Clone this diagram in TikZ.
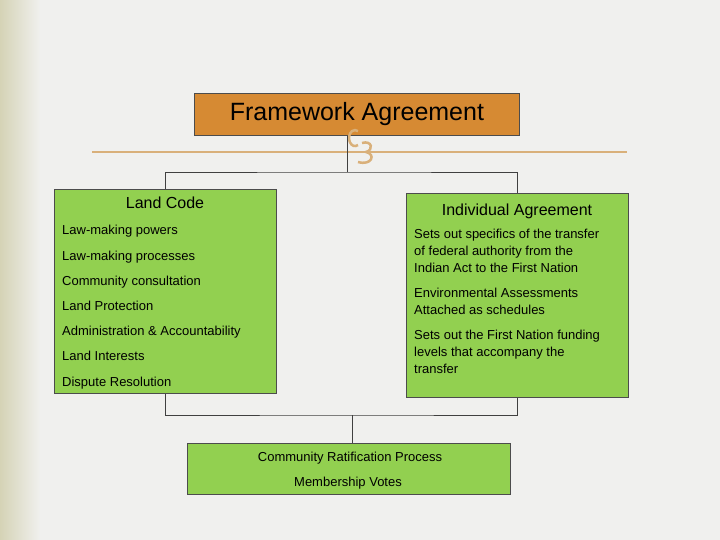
\documentclass[tikz,border=0pt]{standalone}
\usepackage{fontspec}
\setmainfont{Liberation Sans}
\begin{document}
\begin{tikzpicture}[x=1pt,y=-1pt,
  box/.style={draw=black!70,line width=0.8pt,anchor=north west,inner sep=0pt},
  conn/.style={draw=black!75,line width=0.8pt},
  item/.style={anchor=base west,inner sep=0pt,font=\fontsize{13}{15.6}\selectfont},
  ttl/.style={anchor=base,inner sep=0pt,font=\bfseries\fontsize{16}{19}\selectfont}]
\definecolor{bg}{HTML}{F0F0EE}
\definecolor{band}{HTML}{D5D3B6}
\definecolor{orangebox}{HTML}{D68A33}
\definecolor{greenbox}{HTML}{92D050}
\definecolor{tan}{HTML}{D9B07A}
\useasboundingbox (0,0) rectangle (720,540);
\fill[bg] (0,0) rectangle (720,540);
\shade[left color=band,right color=bg] (0,0) rectangle (40,540);
% framework
\node[box,fill=orangebox,minimum width=325pt,minimum height=42pt] (fw) at (194,93) {};
\node[inner sep=0pt,font=\fontsize{25}{30}\selectfont] (fwt) at (fw.center) {Framework Agreement};
% decorative line and ornament
\coordinate (dl) at (92,152);
\coordinate (dr) at (627,152);
\draw[tan,line width=1.5pt] (dl) -- (dr);
\draw[tan,line width=2.5pt] (358,145) arc (60:300:6 and 8);
\draw[tan,line width=2.5pt] (362,143) .. controls (372,140) and (374,150) .. (366,152) .. controls (376,154) and (372,166) .. (358,162);
% boxes
\node[box,fill=greenbox,minimum width=222pt,minimum height=204pt] (lc) at (54,189) {};
\node[box,fill=greenbox,minimum width=222pt,minimum height=204pt] (ia) at (406,193) {};
\node[box,fill=greenbox,minimum width=323pt,minimum height=51pt] (cr) at (187,443) {};
% connectors
\coordinate (j1) at (347,172);
\draw[conn] (fw.south -| j1) -- (j1);
\draw[conn] (lc.north) |- (j1) -| (ia.north);
\coordinate (j2) at (352,415);
\draw[conn] (lc.south) |- (j2) -| (ia.south);
\draw[conn] (j2) -- (cr.north -| j2);
% land code text
\node[ttl] (lct) at (165,208) {\fontseries{m}\selectfont Land Code};
\node[item] (l1) at (62,234) {Law-making powers};
\node[item] (l2) at (62,260) {Law-making processes};
\node[item] (l3) at (62,285) {Community consultation};
\node[item] (l4) at (62,310) {Land Protection};
\node[item] (l5) at (62,335) {Administration \& Accountability};
\node[item] (l6) at (62,360) {Land Interests};
\node[item] (l7) at (62,386) {Dispute Resolution};
% individual text
\node[ttl] (iat) at (517,215) {\fontseries{m}\selectfont Individual Agreement};
\node[item,anchor=north west,align=left,font=\fontsize{13}{17}\selectfont] (i1) at (414,229) {Sets out specifics of the transfer\\of federal authority from the\\Indian Act to the First Nation};
\node[item,anchor=north west,align=left,font=\fontsize{13}{17}\selectfont] (i2) at (414,288) {Environmental Assessments\\Attached as schedules};
\node[item,anchor=north west,align=left,font=\fontsize{13}{17}\selectfont] (i3) at (414,330) {Sets out the First Nation funding\\levels that accompany the\\transfer};
% bottom
\node[anchor=base,inner sep=0pt,font=\fontsize{13}{15.6}\selectfont] (c1) at (350,461) {Community Ratification Process};
\node[anchor=base,inner sep=0pt,font=\fontsize{13}{15.6}\selectfont] (c2) at (348,486) {Membership Votes};
\end{tikzpicture}
\end{document}
